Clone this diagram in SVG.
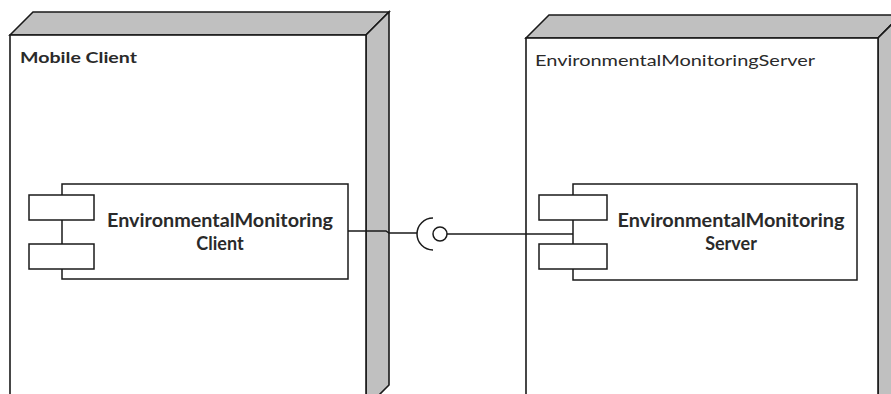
<svg xmlns="http://www.w3.org/2000/svg" width="891" height="394" viewBox="0 0 891 394">
  <style>
    .face { fill: #ffffff; stroke: #1a1a1a; stroke-width: 1.6; }
    .side { fill: #c0c0c0; stroke: #1a1a1a; stroke-width: 1.6; stroke-linejoin: miter; }
    .box { fill: #ffffff; stroke: #1a1a1a; stroke-width: 1.5; }
    .wire { fill: none; stroke: #1a1a1a; stroke-width: 1.5; }
    .nodeLabel { font-family: Lato, "Open Sans", sans-serif; font-size: 15px; fill: #2a2a2a; }
    .compLabel { font-family: Lato, "Open Sans", sans-serif; font-size: 18px; font-weight: bold; fill: #2a2a2a; text-anchor: middle; }
  </style>

  <!-- Deployment node: mobile client device -->
  <g id="node-mobile-client">
    <polygon class="side" points="10,35 33,12 389,12 366,35"/>
    <polygon class="side" points="366,35 389,12 389,385 366,408"/>
    <rect class="face" x="10" y="35" width="356" height="380"/>
    <text class="nodeLabel" x="20" y="63" font-weight="bold" textLength="117" lengthAdjust="spacingAndGlyphs">Mobile Client</text>
  </g>

  <!-- Deployment node: monitoring server -->
  <g id="node-server">
    <polygon class="side" points="526,38 549,15 901,15 878,38"/>
    <polygon class="side" points="878,38 901,15 901,388 878,411"/>
    <rect class="face" x="526" y="38" width="352" height="380"/>
    <text class="nodeLabel" x="535" y="66" textLength="280" lengthAdjust="spacingAndGlyphs">EnvironmentalMonitoringServer</text>
  </g>

  <!-- Component: client application -->
  <g id="component-client">
    <rect class="box" x="62" y="184" width="286" height="95"/>
    <rect class="box" x="29" y="195" width="65" height="25"/>
    <rect class="box" x="29" y="244" width="65" height="25"/>
    <text class="compLabel" x="220" y="227" textLength="226" lengthAdjust="spacingAndGlyphs">EnvironmentalMonitoring</text>
    <text class="compLabel" x="220" y="250">Client</text>
  </g>

  <!-- Component: server application -->
  <g id="component-server">
    <rect class="box" x="573" y="184" width="284" height="96"/>
    <rect class="box" x="539" y="195" width="68" height="25"/>
    <rect class="box" x="539" y="244" width="68" height="25"/>
    <text class="compLabel" x="731" y="227" textLength="227" lengthAdjust="spacingAndGlyphs">EnvironmentalMonitoring</text>
    <text class="compLabel" x="731" y="250">Server</text>
  </g>

  <!-- Connectors: required interface (socket) and provided interface (lollipop) -->
  <g id="connectors">
    <polyline class="wire" points="348,231 386,231 389,233 417,233"/>
    <path class="wire" d="M 433,218 A 16,16 0 0 0 433,250"/>
    <circle class="wire" cx="440" cy="234" r="7"/>
    <line class="wire" x1="447" y1="234" x2="573" y2="234"/>
  </g>
</svg>
